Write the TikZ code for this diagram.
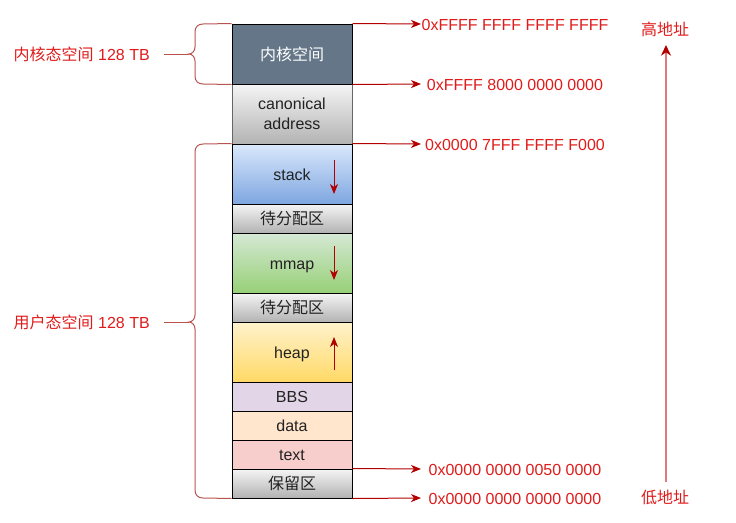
\documentclass[tikz,border=0pt]{standalone}
\usepackage{fontspec}
\setmainfont{Liberation Sans}
\newfontfamily\cjk{Noto Sans CJK SC}
\usetikzlibrary{arrows.meta}
\definecolor{bracec}{HTML}{B85450}
\definecolor{arrc}{HTML}{B20000}
\definecolor{lblc}{HTML}{E01B1B}
\definecolor{bigline}{HTML}{E07B7B}
\definecolor{celltext}{HTML}{222222}
\definecolor{kernelc}{HTML}{647687}
\begin{document}
\begin{tikzpicture}[x=0.75pt,y=-0.75pt,
  font=\fontsize{12}{15}\selectfont,
  cell/.style={draw=black, line width=0.75pt, minimum width=90pt, inner sep=0pt, text=celltext, text height=10pt, text depth=1pt},
  bigcell/.style={cell, minimum height=45pt},
  smallcell/.style={cell, minimum height=21.75pt},
  graygrad/.style={top color=white!96!black, bottom color=black!30},
  lbl/.style={text=lblc, inner sep=0pt, text height=10pt, text depth=1pt},
  addrarrow/.style={draw=arrc, line width=0.75pt, -{Stealth[length=7.5pt, width=6pt, inset=2.2pt]}},
  bracestyle/.style={draw=bracec, line width=0.75pt}]
\path[use as bounding box] (0,0) rectangle (736,522);

% cells
\node[bigcell, draw=black!60, graygrad, align=center, text height=, text depth=] (canon) at (292,114) {canonical\\address};
\node[bigcell, fill=kernelc, text=white] (kernel) at (292,54) {\cjk 内核空间};
\node[bigcell, top color={rgb,255:red,218;green,232;blue,252}, bottom color={rgb,255:red,126;green,166;blue,224}] (stack) at (292,174) {stack};
\node[smallcell, graygrad] (free1) at (292,218.5) {\cjk 待分配区};
\node[bigcell, top color={rgb,255:red,213;green,232;blue,212}, bottom color={rgb,255:red,151;green,208;blue,119}] (mmap) at (292,263) {mmap};
\node[smallcell, graygrad] (free2) at (292,307.5) {\cjk 待分配区};
\node[bigcell, top color={rgb,255:red,255;green,242;blue,204}, bottom color={rgb,255:red,255;green,217;blue,102}] (heap) at (292,352) {heap};
\node[smallcell, fill={rgb,255:red,225;green,213;blue,231}] (bbs) at (292,396.5) {BBS};
\node[smallcell, fill={rgb,255:red,255;green,230;blue,204}] (data) at (292,425.5) {data};
\node[smallcell, fill={rgb,255:red,248;green,206;blue,204}] (text) at (292,454.5) {text};
\node[smallcell, graygrad] (res) at (292,483.5) {\cjk 保留区};

% in-cell arrows
\coordinate (sA) at (334,160); \coordinate (sB) at (334,194);
\coordinate (mA) at (334,246); \coordinate (mB) at (334,280);
\coordinate (hA) at (334,370); \coordinate (hB) at (334,337);
\draw[addrarrow] (sA) -- (sB);
\draw[addrarrow] (mA) -- (mB);
\draw[addrarrow] (hA) -- (hB);

% address labels
\node[lbl] (a1) at (515,24) {0xFFFF FFFF FFFF FFFF};
\node[lbl] (a2) at (515,84) {0xFFFF 8000 0000 0000};
\node[lbl] (a3) at (515,144) {0x0000 7FFF FFFF F000};
\node[lbl] (a4) at (515,469) {0x0000 0000 0050 0000};
\node[lbl] (a5) at (515,498) {0x0000 0000 0000 0000};
\coordinate (e1) at (421,24);
\coordinate (e2) at (421,84);
\coordinate (e3) at (421,144);
\coordinate (e4) at (421,469);
\coordinate (e5) at (421,498);
\draw[addrarrow] (kernel.north east) -- (e1);
\draw[addrarrow] (kernel.south east) -- (e2);
\draw[addrarrow] (stack.north east) -- (e3);
\draw[addrarrow] (res.north east) -- (e4);
\draw[addrarrow] (res.south east) -- (e5);

% braces
\draw[bracestyle] (kernel.north west) -- (203,24) .. controls (198,24) and (195,27) .. (195,32) -- (195,47)
  .. controls (195,51) and (192,54) .. (189,54) .. controls (192,54) and (195,57) .. (195,61) -- (195,76)
  .. controls (195,81) and (198,84) .. (203,84) -- (kernel.south west);
\coordinate (kt) at (189,54);
\coordinate (kl) at (164,54);
\draw[bracestyle] (kl) -- (kt);
\node[lbl, anchor=east] (klabel) at (150,54) {{\cjk 内核态空间} 128 TB};

\draw[bracestyle] (stack.north west) -- (203,144) .. controls (198,144) and (195,147) .. (195,152) -- (195,315)
  .. controls (195,319) and (192,322) .. (189,322) .. controls (192,322) and (195,325) .. (195,329) -- (195,490)
  .. controls (195,495) and (198,498) .. (203,498) -- (res.south west);
\coordinate (ut) at (189,322);
\coordinate (ul) at (164,322);
\draw[bracestyle] (ul) -- (ut);
\node[lbl, anchor=east] (ulabel) at (150,322) {{\cjk 用户态空间} 128 TB};

% high/low address
\node[lbl] (high) at (665,29) {\cjk 高地址};
\node[lbl] (low) at (665,497) {\cjk 低地址};
\coordinate (bA) at (666,482);
\coordinate (bB) at (666,45);
\draw[draw=bigline, line width=1.3pt, -{Stealth[length=8pt, width=7.5pt, inset=2.5pt, color=arrc]}] (bA) -- (bB);
\end{tikzpicture}
\end{document}
